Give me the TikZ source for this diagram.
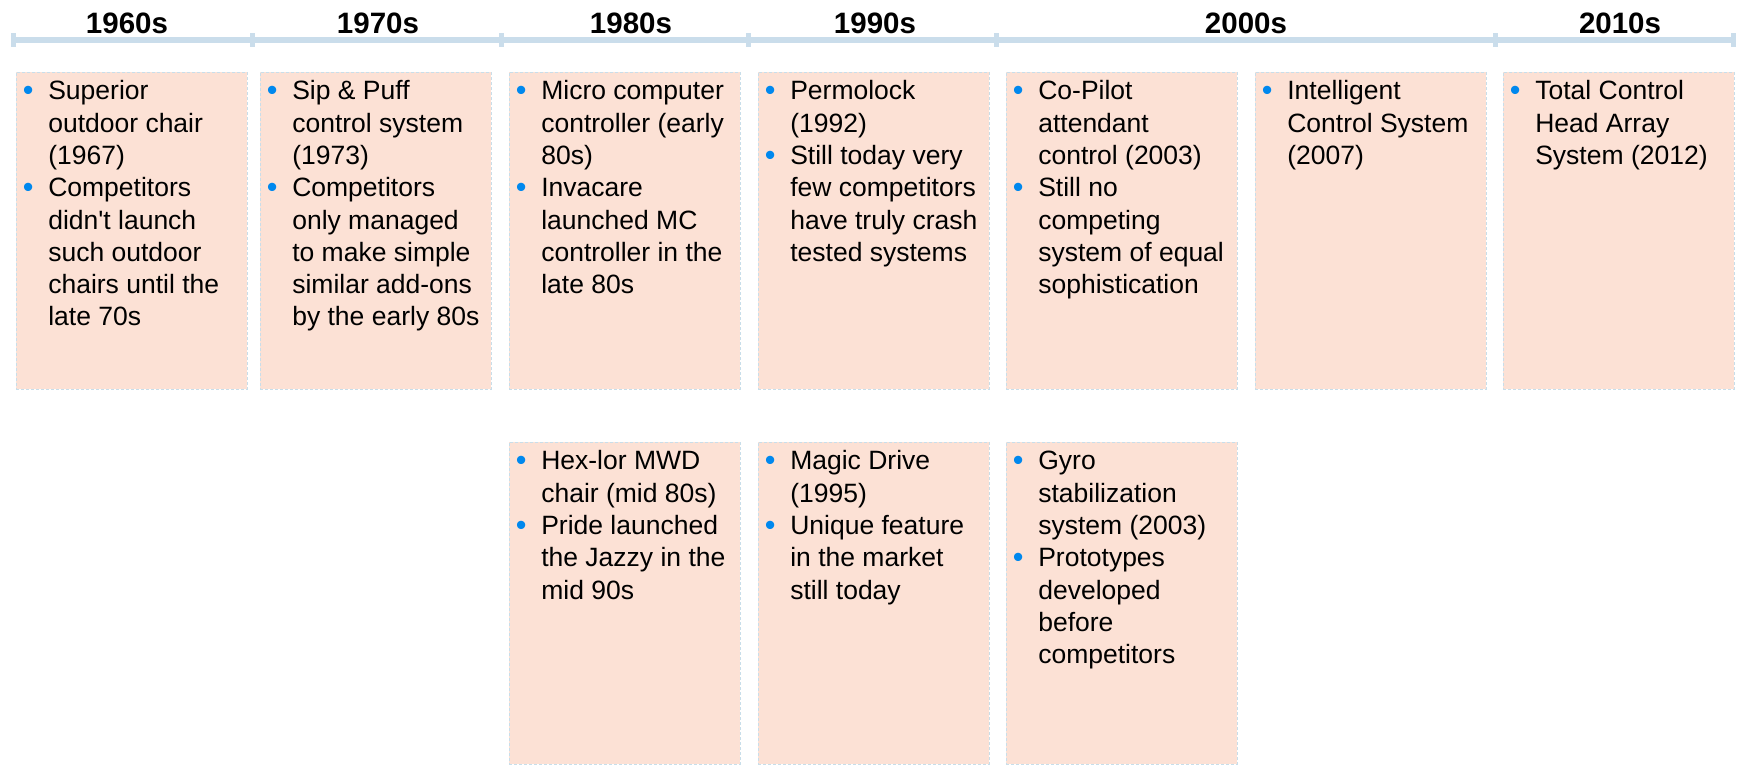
\documentclass[tikz,border=0pt]{standalone}
\usepackage{fontspec}
\usepackage{graphicx}
\usepackage{tikz}

\newfontfamily\arial{Liberation Sans}

\definecolor{axisblue}{RGB}{202,221,235}
\definecolor{boxfill}{RGB}{252,225,213}
\definecolor{boxline}{RGB}{200,222,234}
\definecolor{dotblue}{RGB}{0,136,238}

% one bullet point with a hanging indent
\newcommand{\bpoint}[1]{\par\noindent\hangindent=32pt\hangafter=1
  \makebox[24pt]{\textcolor{dotblue}{\raisebox{-0.8pt}{\scalebox{1.15}{•}}}}\hspace{8pt}#1}
% text block of a box, first baseline 27.5pt below the top
\newcommand{\period}[2]{\parbox[t][#1pt][t]{231pt}{\mbox{}\par\vspace{-4.8pt}#2}}

\begin{document}
\begin{tikzpicture}[
        x=1pt, y=-1pt,
        axis/.style={line width=6pt, axisblue},
        axistick/.style={line width=5pt, axisblue},
        decade/.style={anchor=base, font=\arial\bfseries\fontsize{29.5}{35}\selectfont},
        period/.style={anchor=north west, inner sep=0pt, fill=boxfill, draw=boxline,
            densely dashed, line width=0.6pt, font=\arial\fontsize{26.5}{32.3}\selectfont},
    ]
        \useasboundingbox (0,0) rectangle (1738,764);

        % time axis
        \draw[axis] (13,40) -- (1733,40);
        \draw[axistick] (13,33) -- (13,47) (252,33) -- (252,47) (501,33) -- (501,47)
            (748,33) -- (748,47) (996,33) -- (996,47) (1495,33) -- (1495,47) (1733,33) -- (1733,47);

        \node[decade] (d60) at (127,33) {1960s};
        \node[decade] (d70) at (378,33) {1970s};
        \node[decade] (d80) at (631,33) {1980s};
        \node[decade] (d90) at (875,33) {1990s};
        \node[decade] (d00) at (1246,33) {2000s};
        \node[decade] (d10) at (1620,33) {2010s};

        % upper row
        \node[period] (p60) at (16,72) {\period{317}{
            \bpoint{Superior\\ outdoor chair\\ (1967)}
            \bpoint{Competitors\\ didn't launch\\ such outdoor\\ chairs until the\\ late 70s}}};
        \node[period] (p70) at (260,72) {\period{317}{
            \bpoint{Sip \& Puff\\ control system\\ (1973)}
            \bpoint{Competitors\\ only managed\\ to make simple\\ similar add-ons\\ by the early 80s}}};
        \node[period] (p80) at (509,72) {\period{317}{
            \bpoint{Micro computer\\ controller (early\\ 80s)}
            \bpoint{Invacare\\ launched MC\\ controller in the\\ late 80s}}};
        \node[period] (p90) at (758,72) {\period{317}{
            \bpoint{Permolock\\ (1992)}
            \bpoint{Still today very\\ few competitors\\ have truly crash\\ tested systems}}};
        \node[period] (p00) at (1006,72) {\period{317}{
            \bpoint{Co-Pilot\\ attendant\\ control (2003)}
            \bpoint{Still no\\ competing\\ system of equal\\ sophistication}}};
        \node[period] (p07) at (1255,72) {\period{317}{
            \bpoint{Intelligent\\ Control System\\ (2007)}}};
        \node[period] (p10) at (1503,72) {\period{317}{
            \bpoint{Total Control\\ Head Array\\ System (2012)}}};

        % lower row
        \node[period] (q80) at (509,442) {\period{322}{
            \bpoint{Hex-lor MWD\\ chair (mid 80s)}
            \bpoint{Pride launched\\ the Jazzy in the\\ mid 90s}}};
        \node[period] (q90) at (758,442) {\period{322}{
            \bpoint{Magic Drive\\ (1995)}
            \bpoint{Unique feature\\ in the market\\ still today}}};
        \node[period] (q00) at (1006,442) {\period{322}{
            \bpoint{Gyro\\ stabilization\\ system (2003)}
            \bpoint{Prototypes\\ developed\\ before\\ competitors}}};
    \end{tikzpicture}
\end{document}
